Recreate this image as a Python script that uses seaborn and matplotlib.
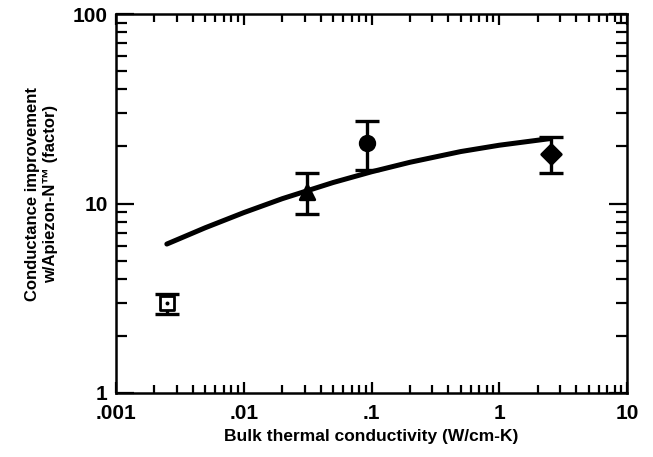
import numpy as np
import pandas as pd
import matplotlib
matplotlib.use("Agg")
import matplotlib.pyplot as plt
import seaborn as sns
from matplotlib.ticker import FixedLocator, LogLocator, NullFormatter, FixedFormatter

# ---- data ----
materials = ["open square", "triangle", "circle", "diamond"]
conductivity = [0.00252, 0.0311, 0.0927, 2.53]
improvement = [2.97, 11.5, 20.9, 18.2]
err_low = [2.60, 8.8, 15.1, 14.4]
err_high = [3.32, 14.5, 27.3, 22.5]
markers = ["s", "^", "o", "D"]

curve_k = [0.0025, 0.005, 0.01, 0.02, 0.05, 0.1, 0.2, 0.5, 1.0, 2.5]
curve_y = [6.11, 7.45, 8.95, 10.6, 12.9, 14.7, 16.5, 18.8, 20.3, 22.0]

x_ticks = [0.001, 0.01, 0.1, 1, 10]
x_tick_labels = [".001", ".01", ".1", "1", "10"]
y_ticks = [1, 10, 100]
y_tick_labels = ["1", "10", "100"]

sns.set_theme(style="ticks")
plt.rcParams["font.family"] = ["Liberation Sans", "DejaVu Sans"]
plt.rcParams["font.weight"] = "bold"
plt.rcParams["text.color"] = "black"
plt.rcParams["axes.labelcolor"] = "black"
plt.rcParams["xtick.color"] = "black"
plt.rcParams["ytick.color"] = "black"

fig = plt.figure(figsize=(6.53, 4.57), dpi=100)
ax = fig.add_axes([116/653, 1-393/457, 511/653, 379/457])

curve_df = pd.DataFrame({"k": curve_k, "y": curve_y})
sns.lineplot(data=curve_df, x="k", y="y", ax=ax, color="black", lw=3.6, zorder=2)

pts = pd.DataFrame({"k": conductivity, "y": improvement, "m": materials})
for i in range(len(conductivity)):
    lo = improvement[i] - err_low[i]
    hi = err_high[i] - improvement[i]
    ax.errorbar([conductivity[i]], [improvement[i]], yerr=[[lo], [hi]], fmt="none",
                ecolor="black", elinewidth=2.4, capsize=8.5, capthick=2.4, zorder=3)

for i, row in pts.iterrows():
    filled = row["m"] != "open square"
    sns.scatterplot(x=[row["k"]], y=[row["y"]], ax=ax, marker=markers[i],
                    s=110 if markers[i] != "D" else 100,
                    color="black" if filled else "white",
                    edgecolor="black", linewidth=2.0, zorder=4)
    if not filled:
        sns.scatterplot(x=[row["k"]], y=[row["y"]], ax=ax, marker="o", s=8,
                        color="black", edgecolor="black", linewidth=0, zorder=5)

ax.set_xscale("log")
ax.set_yscale("log")
ax.set_xlim(0.001, 10)
ax.set_ylim(1, 100)

ax.xaxis.set_major_locator(FixedLocator(x_ticks))
ax.xaxis.set_major_formatter(FixedFormatter(x_tick_labels))
ax.yaxis.set_major_locator(FixedLocator(y_ticks))
ax.yaxis.set_major_formatter(FixedFormatter(y_tick_labels))
ax.xaxis.set_minor_locator(LogLocator(base=10, subs=np.arange(2, 10), numticks=20))
ax.yaxis.set_minor_locator(LogLocator(base=10, subs=np.arange(2, 10), numticks=20))
ax.xaxis.set_minor_formatter(NullFormatter())
ax.yaxis.set_minor_formatter(NullFormatter())

ax.tick_params(axis="both", which="both", direction="in", top=True, right=True,
               width=1.6, colors="black")
ax.tick_params(axis="x", which="major", length=8, pad=8, labelsize=15)
ax.tick_params(axis="x", which="minor", length=6)
ax.tick_params(axis="y", which="major", length=13, pad=6, labelsize=15)
ax.tick_params(axis="y", which="minor", length=8)
for lab in ax.get_xticklabels() + ax.get_yticklabels():
    lab.set_fontweight("bold")

for sp in ax.spines.values():
    sp.set_linewidth(1.8)
    sp.set_color("black")

ax.set_xlabel("Bulk thermal conductivity (W/cm-K)", fontsize=12.5, fontweight="bold",
              labelpad=4, color="black")
ax.set_ylabel("Conductance improvement\nw/Apiezon-N\u2122 (factor)", fontsize=12,
              fontweight="bold", linespacing=1.25, color="black")
ax.yaxis.label.set_va("center")
ax.yaxis.set_label_coords(-0.145, 0.525)

fig.savefig("out.png", dpi=100, facecolor="white")
